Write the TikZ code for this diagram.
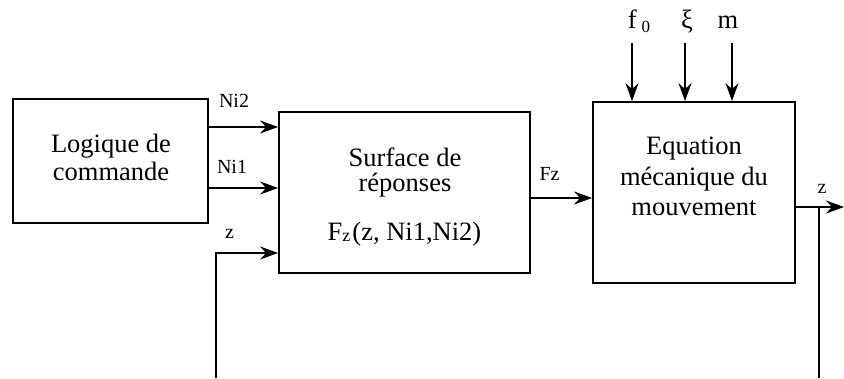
\documentclass[tikz,border=0pt]{standalone}
\usepackage{fontspec}
\setmainfont{Liberation Serif}
\usetikzlibrary{arrows.meta}
\begin{document}
\begin{tikzpicture}[x=1pt,y=-1pt, line width=1.8pt,
  box/.style={draw, line width=1.8pt, inner sep=0pt},
  big/.style={font=\fontsize{26.5}{28}\selectfont, inner sep=0pt, anchor=base},
  small/.style={font=\fontsize{20}{22}\selectfont, inner sep=0pt, anchor=base},
  arr/.style={-{Stealth[length=18pt,width=13pt,inset=6pt]}, line width=1.8pt}]
\useasboundingbox (0,0) rectangle (844,378);

% boxes
\node[box, minimum width=195pt, minimum height=124pt] (logic) at (110.5,161) {};
\node[box, minimum width=251pt, minimum height=161pt] (surf) at (404.5,192.5) {};
\node[box, minimum width=202pt, minimum height=181pt] (eq) at (694,192.5) {};

% box texts
\node[big] (l1) at (111,152) {Logique de};
\node[big] (l2) at (111,180) {commande};
\node[big] (s1) at (405,166) {Surface de};
\node[big] (s2) at (405,191) {réponses};
\node[big] (s3) at (404.5,240) {F\raisebox{-1pt}{\fontsize{18}{18}\selectfont z}\hspace{2pt}(z, Ni1,Ni2)};
\node[big] (e1) at (694,154) {Equation};
\node[big] (e2) at (694,185) {mécanique du};
\node[big] (e3) at (694,215) {mouvement};

% inputs to surface
\draw[arr] (logic.east |- 0,127) -- (surf.west |- 0,127);
\draw[arr] (logic.east |- 0,188) -- (surf.west |- 0,188);
\coordinate (zb) at (216,378);
\draw[arr] (zb) |- (surf.west |- 0,253);
\node[small] (ni2) at (234,107) {Ni2};
\node[small] (ni1) at (232,173) {Ni1};
\node[small] (zin) at (229.5,238) {z};

% Fz
\draw[arr] (surf.east |- 0,198) -- (eq.west |- 0,198);
\node[small] (fz) at (549.5,180) {Fz};

% top inputs
\coordinate (tf) at (632,43);
\coordinate (tx) at (685,43);
\coordinate (tm) at (732,43);
\draw[arr] (tf) -- (eq.north -| tf);
\draw[arr] (tx) -- (eq.north -| tx);
\draw[arr] (tm) -- (eq.north -| tm);
\node[big, anchor=base west] (f0) at (627,28) {f\hspace{5pt}\raisebox{-4pt}{\fontsize{17}{17}\selectfont 0}};
\node[big] (xi) at (687,28) {ξ};
\node[big] (m) at (728,28) {m};

% output
\coordinate (zout) at (844,207);
\coordinate (zdown) at (819,378);
\draw[arr] (eq.east |- zout) -- (zout);
\draw (zout -| zdown) -- (zdown);
\node[small] (zo) at (822,193) {z};
\end{tikzpicture}
\end{document}
